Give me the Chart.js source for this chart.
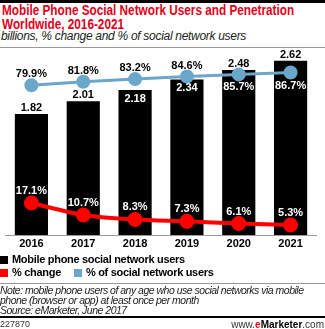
<!DOCTYPE html>
<html>
<head>
<meta charset="utf-8">
<script src="https://cdn.jsdelivr.net/npm/chart.js@4"></script>
<style>
  html, body { margin: 0; padding: 0; background: #fff; }
  body { width: 325px; height: 329px; position: relative; overflow: hidden; font-family: "Liberation Sans", Arial, sans-serif; }
  .topbar { position: absolute; left: 0; top: 0; width: 325px; height: 3px; background: #000; }
  .title { position: absolute; left: 2px; top: 3px; color: #e2001a; font-weight: bold; font-size: 14px; line-height: 14px; white-space: nowrap; transform: scaleX(0.84); transform-origin: 0 0; }
  .subtitle { position: absolute; left: 1px; top: 29px; font-style: italic; font-size: 12px; letter-spacing: -0.3px; color: #222; white-space: nowrap; }
  .sep { position: absolute; left: 0; width: 325px; height: 1px; background: #999; }
  #wrap { position: absolute; left: -4px; top: 40px; width: 330px; height: 215px; }
  .legend { position: absolute; left: 0; font-size: 11px; font-weight: bold; letter-spacing: -0.3px; color: #000; white-space: nowrap; }
  .legend i { display: inline-block; width: 8px; height: 8px; margin-right: 4px; vertical-align: -1px; }
  .note { position: absolute; left: 0; top: 285px; font-style: italic; font-size: 10.5px; letter-spacing: -0.5px; line-height: 10px; color: #222; white-space: nowrap; }
  .thick { position: absolute; left: 0; top: 316px; width: 325px; height: 2px; background: #000; }
  .foot { position: absolute; top: 319px; font-size: 9px; color: #333; }
</style>
</head>
<body>
<div class="topbar"></div>
<div class="title">Mobile Phone Social Network Users and Penetration<br>Worldwide, 2016-2021</div>
<div class="subtitle">billions, % change and % of social network users</div>
<div class="sep" style="top:47px"></div>
<div id="wrap"><canvas id="myChart"></canvas></div>
<div class="legend" style="top:253px"><i style="background:#000"></i>Mobile phone social network users</div>
<div class="legend" style="top:266px"><i style="background:#ff0000"></i>% change<span style="display:inline-block;width:13px"></span><i style="background:#6aa7cb"></i>% of social network users</div>
<div class="sep" style="top:283px"></div>
<div class="note">Note: mobile phone users of any age who use social networks via mobile<br>phone (browser or app) at least once per month<br>Source: eMarketer, June 2017</div>
<div class="thick"></div>
<div class="foot" style="left:0">227870</div>
<div class="foot" style="right:1px;font-size:10px">www.<b style="color:#e2001a">e</b><b style="color:#000">Marketer</b>.com</div>
<script>
const years = ['2016', '2017', '2018', '2019', '2020', '2021'];
const users = [1.82, 2.01, 2.18, 2.34, 2.48, 2.62];
const pctChange = [17.1, 10.7, 8.3, 7.3, 6.1, 5.3];
const pctSocial = [79.9, 81.8, 83.2, 84.6, 85.7, 86.7];

// where each label sits relative to its mark
const userLabelInside = [false, false, true, true, false, false];
const socialLabelBelow = [false, false, false, false, true, true];

const valueLabels = {
    id: 'valueLabels',
    afterDatasetsDraw(chart) {
        const ctx = chart.ctx;
        ctx.save();
        ctx.font = 'bold 11px "Liberation Sans", Arial, sans-serif';
        ctx.textAlign = 'center';
        ctx.textBaseline = 'middle';

        chart.getDatasetMeta(0).data.forEach((bar, i) => {
            if (userLabelInside[i]) {
                ctx.fillStyle = '#fff';
                ctx.fillText(users[i].toFixed(2), bar.x, bar.y + 9);
            } else {
                ctx.fillStyle = '#000';
                ctx.fillText(users[i].toFixed(2), bar.x, bar.y - 6);
            }
        });

        chart.getDatasetMeta(1).data.forEach((pt, i) => {
            ctx.fillStyle = '#fff';
            ctx.fillText(pctChange[i].toFixed(1) + '%', pt.x, pt.y - 12);
        });

        chart.getDatasetMeta(2).data.forEach((pt, i) => {
            if (socialLabelBelow[i]) {
                ctx.fillStyle = '#fff';
                ctx.fillText(pctSocial[i].toFixed(1) + '%', pt.x, pt.y + 13);
            } else {
                ctx.fillStyle = '#000';
                ctx.fillText(pctSocial[i].toFixed(1) + '%', pt.x, pt.y - 11);
            }
        });
        ctx.restore();
    }
};

const data = {
    labels: years,
    datasets: [{
        type: 'bar',
        label: 'Mobile phone social network users',
        data: users,
        backgroundColor: '#000',
        yAxisID: 'y',
        categoryPercentage: 1,
        barPercentage: 0.64,
        order: 3
    }, {
        type: 'line',
        label: '% change',
        data: pctChange,
        borderColor: '#ff0000',
        backgroundColor: '#ff0000',
        borderWidth: 4,
        pointRadius: 5.5,
        pointHoverRadius: 5.5,
        tension: 0.3,
        yAxisID: 'y2',
        order: 1
    }, {
        type: 'line',
        label: '% of social network users',
        data: pctSocial,
        borderColor: '#6aa7cb',
        backgroundColor: '#6aa7cb',
        borderWidth: 3,
        pointRadius: 5.5,
        pointHoverRadius: 5.5,
        tension: 0,
        yAxisID: 'y2',
        order: 2
    }]
};

const config = {
    data,
    plugins: [valueLabels],
    options: {
        responsive: true,
        maintainAspectRatio: false,
        animation: false,
        layout: { padding: { top: 8, left: 0, right: 0, bottom: 0 } },
        plugins: {
            legend: { display: false },
            tooltip: { enabled: false }
        },
        scales: {
            x: {
                grid: { display: false, drawTicks: false },
                border: { display: true, color: '#999', width: 1 },
                ticks: {
                    color: '#000',
                    padding: 2,
                    font: { family: '"Liberation Sans", Arial, sans-serif', size: 11, weight: 'bold' }
                },
                afterFit(scale) { scale.height = 20; }
            },
            y: { display: false, min: 0, max: 2.79 },
            y2: { display: false, min: 0, max: 99 }
        }
    }
};

var myChart = new Chart(document.getElementById('myChart'), config);
</script>
</body>
</html>
